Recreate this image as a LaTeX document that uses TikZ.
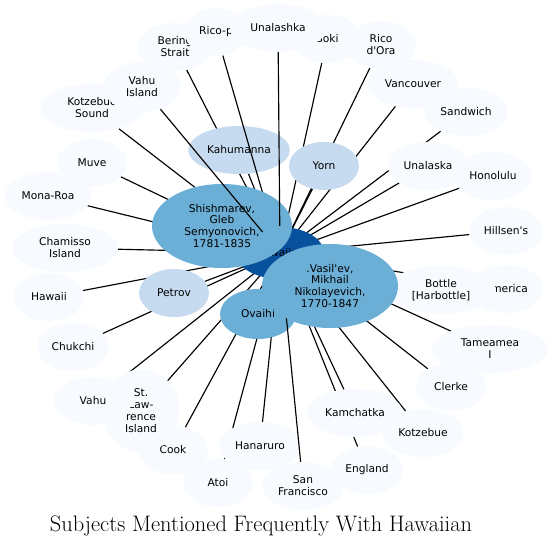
\documentclass[tikz,border=0pt]{standalone}
\usepackage{fontspec}
\usepackage{xcolor}
\usepackage{tikz}
\usetikzlibrary{shapes.geometric, backgrounds}
\newfontfamily\labelfont{DejaVu Sans}
\definecolor{bluepale}{HTML}{F7FBFF}
\definecolor{bluelight}{HTML}{C6DBEF}
\definecolor{bluemid}{HTML}{6BAED6}
\definecolor{bluedark}{HTML}{08519C}

\begin{document}
\begin{tikzpicture}[
    x=1bp, y=-1bp,
    subject/.style={ellipse, fill=#1, inner sep=4bp, minimum width=70bp, minimum height=48bp,
                    align=center, font=\labelfont\fontsize{10.7}{12}\selectfont},
    subject/.default=bluepale,
    link/.style={line width=1.15bp, color=black}
]
\useasboundingbox (0,0) rectangle (554,548);

\node[subject=bluedark, minimum width=88bp, minimum height=52bp] (hub) at (280,253) {Hawaiian};
\node[circle, minimum size=54bp, inner sep=0pt] (core) at (hub.center) {};

% outer ring
\node[subject, minimum width=76bp]  (bering)     at (175,47)  {Bering\\Strait};
\node[subject, minimum width=62bp]  (ricop)      at (216,32)  {Rico-p};
\node[subject]                      (boki)       at (327,39)  {Boki};
\node[subject, minimum width=96bp]  (unalashka)  at (278,28)  {Unalashka};
\node[subject]                      (ricodora)   at (381,45)  {Rico\\d'Ora};
\node[subject]                      (vancouver)  at (413,84)  {Vancouver};
\node[subject]                      (sandwich)   at (466,112) {Sandwich};
\node[subject]                      (unalaska)   at (428,166) {Unalaska};
\node[subject]                      (honolulu)   at (493,176) {Honolulu};
\node[subject]                      (hillsens)   at (506,231) {Hillsen's};
\node[subject]                      (america)    at (506,289) {America};
\node[subject, minimum width=110bp] (bottle)     at (441,290) {Bottle\\{[Harbottle]}};
\node[subject, minimum width=116bp] (tameamea)   at (490,349) {Tameamea\\I};
\node[subject]                      (clerke)     at (451,387) {Clerke};
\node[subject]                      (kotzebue)   at (423,433) {Kotzebue};
\node[subject]                      (kamchatka)  at (355,413) {Kamchatka};
\node[subject]                      (england)    at (367,470) {England};
\node[subject]                      (sanfran)    at (303,486) {San\\Francisco};
\node[subject]                      (hanaruro)   at (260,446) {Hanaruro};
\node[subject]                      (atoi)       at (218,483) {Atoi};
\node[subject]                      (cook)       at (173,450) {Cook};
\node[subject, minimum width=77bp, minimum height=83bp] (lawrence) at (141,411) {St.\\Law-\\rence\\Island};
\node[subject, minimum width=78bp]  (vahu)       at (93,401)  {Vahu};
\node[subject]                      (chukchi)    at (73,347)  {Chukchi};
\node[subject]                      (hawaii)     at (49,297)  {Hawaii};
\node[subject, minimum width=106bp] (chamisso)   at (65,248)  {Chamisso\\Island};
\node[subject]                      (monaroa)    at (48,196)  {Mona-Roa};
\node[subject]                      (muve)       at (92,163)  {Muve};
\node[subject, minimum width=103bp] (kotzsound)  at (92,108)  {Kotzebue\\Sound};
\node[subject, minimum width=77bp, minimum height=50bp] (vahuisland) at (142,87) {Vahu\\Island};

% inner ring
\node[subject=bluelight] (kahumanna) at (239,150) {Kahumanna};
\node[subject=bluelight] (yorn)      at (324,166) {Yorn};
\node[subject=bluelight] (petrov)    at (174,293) {Petrov};

\draw[link] (ricop) -- (core);

\node[subject=bluemid, minimum width=140bp, minimum height=84bp] (shishmarev) at (222,226)
    {Shishmarev,\\Gleb\\Semyonovich,\\1781-1835};

\draw[link] (vahuisland) -- (core);
\draw[link] (unalashka)  -- (core);

\node[subject=bluemid, minimum width=76bp, minimum height=50bp] (ovaihi) at (258,314) {Ovaihi};

\draw[link] (sanfran) -- (core);

\node[subject=bluemid, minimum width=136bp, minimum height=84bp] (vasilev) at (330,286)
    {.Vasil'ev,\\Mikhail\\Nikolayevich,\\1770-1847};

\begin{scope}[on background layer]
\draw[link] (bering)     -- (core);
\draw[link] (boki)       -- (core);
\draw[link] (ricodora)   -- (core);
\draw[link] (vancouver)  -- (core);
\draw[link] (sandwich)   -- (core);
\draw[link] (unalaska)   -- (core);
\draw[link] (honolulu)   -- (core);
\draw[link] (hillsens)   -- (core);
\draw[link] (america)    -- (core);
\draw[link] (bottle)     -- (core);
\draw[link] (tameamea)   -- (core);
\draw[link] (clerke)     -- (core);
\draw[link] (kotzebue)   -- (core);
\draw[link] (kamchatka)  -- (core);
\draw[link] (england)    -- (core);
\draw[link] (hanaruro)   -- (core);
\draw[link] (atoi)       -- (core);
\draw[link] (cook)       -- (core);
\draw[link] (lawrence)   -- (core);
\draw[link] (vahu)       -- (core);
\draw[link] (chukchi)    -- (core);
\draw[link] (hawaii)     -- (core);
\draw[link] (chamisso)   -- (core);
\draw[link] (monaroa)    -- (core);
\draw[link] (muve)       -- (core);
\draw[link] (kotzsound)  -- (core);
\draw[link] (kahumanna)  -- (core);
\draw[link] (yorn)       -- (core);
\draw[link] (petrov)     -- (core);
\draw[link] (shishmarev) -- (core);
\draw[link] (ovaihi)     -- (core);
\draw[link] (vasilev)    -- (core);
\end{scope}

\node[font=\fontsize{22.5}{26}\selectfont] (title) at (261,526) {Subjects Mentioned Frequently With Hawaiian};
\end{tikzpicture}
\end{document}
